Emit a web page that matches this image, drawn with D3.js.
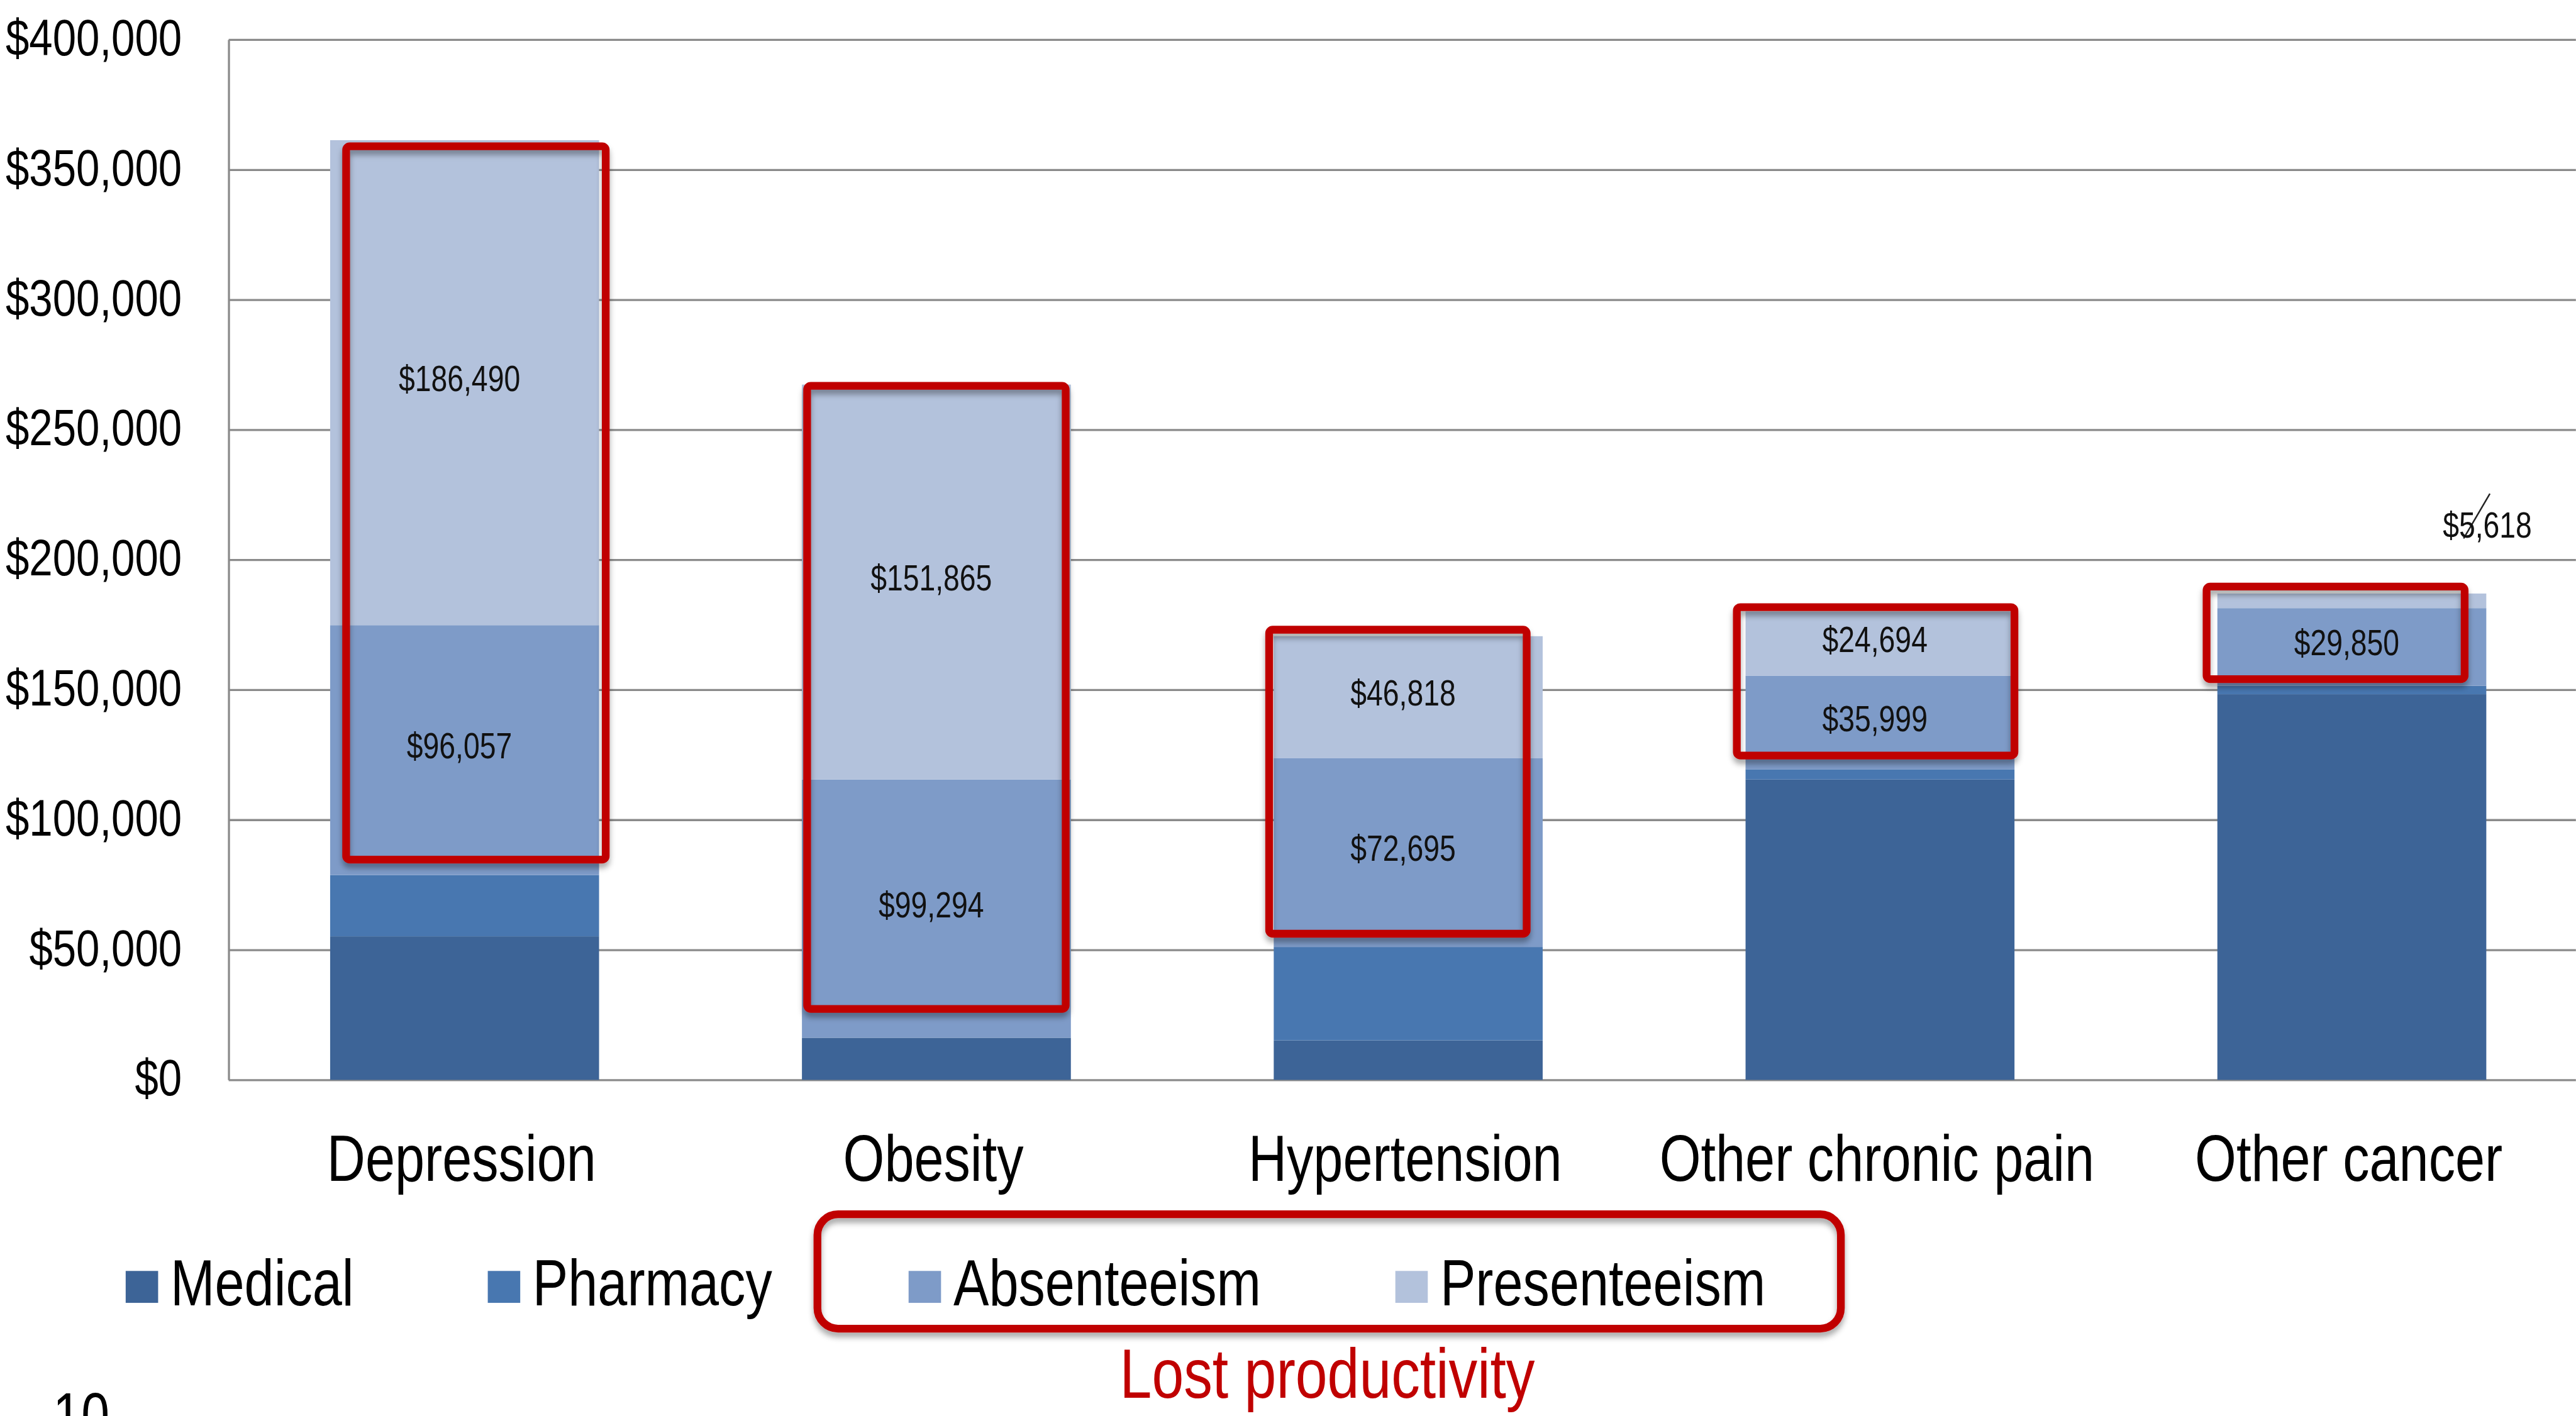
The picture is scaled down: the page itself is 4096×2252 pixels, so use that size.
<!DOCTYPE html>
<html><head><meta charset="utf-8">
<script src="https://cdn.jsdelivr.net/npm/d3@7"></script>
<style>
html,body{margin:0;padding:0;background:#fff;overflow:hidden}
svg{display:block}
</style></head><body>
<svg id="chart" width="4096" height="2252"></svg>
<script>
// ---- data ----
const categories = ["Depression", "Obesity", "Hypertension", "Other chronic pain", "Other cancer"];
const seriesNames = ["Medical", "Pharmacy", "Absenteeism", "Presenteeism"];
const medical      = [55200, 16200, 15200, 115500, 148300];
const pharmacy     = [23600, 0, 35900, 3950, 3250];
const absenteeism  = [96057, 99294, 72695, 35999, 29850];
const presenteeism = [186490, 151865, 46818, 24694, 5618];
const yTickValues  = [0, 50000, 100000, 150000, 200000, 250000, 300000, 350000, 400000];
const labelledSeries = ["Absenteeism", "Presenteeism"];
const groupLabel = "Lost productivity";
const pageNumber = "10";
// highlight boxes around lost productivity (value extents)
const boxTopValue    = [359000, 266900, 173100, 181800, 189700];
const boxBottomValue = [84700, 27300, 56200, 124700, 154100];

// ---- layout (reference pixel space, scaled by 0.819) ----
const S = 0.819;
const NARROW = 0.82;
const colors = {Medical: "#3d6497", Pharmacy: "#4877b0", Absenteeism: "#7e9bc8", Presenteeism: "#b3c2dc"};
const RED = "#c00000";
const FONT = "'Liberation Sans',Arial,sans-serif";
const boxDx = [[-230, 274], [-251, 251], [-270, 230], [-278, 261], [-282, 219]];

const svg = d3.select("#chart");
const defs = svg.append("defs");
const f = defs.append("filter").attr("id", "shadow").attr("x", "-10%").attr("y", "-10%").attr("width", "120%").attr("height", "130%");
f.append("feDropShadow").attr("dx", 0).attr("dy", 9).attr("stdDeviation", 6)
  .attr("flood-color", "#000").attr("flood-opacity", 0.35);

const g = svg.append("g").attr("transform", `scale(${S})`);

const rows = categories.map((c, i) => ({
  category: c, Medical: medical[i], Pharmacy: pharmacy[i],
  Absenteeism: absenteeism[i], Presenteeism: presenteeism[i]
}));

const x = d3.scaleBand().domain(categories).range([444, 5024]).paddingInner(0.43).paddingOuter(0.215);
const y = d3.scaleLinear().domain([0, 400000]).range([2097, 77]);

// gridlines + y axis
const yAxis = d3.axisLeft(y).tickValues(yTickValues)
  .tickFormat(d => "$" + d3.format(",")(d))
  .tickSize(-(5001 - 444)).tickSizeOuter(0).tickPadding(91);
const ax = g.append("g").attr("transform", "translate(444,0)").call(yAxis);
ax.select(".domain").attr("stroke", "#8a8a8a").attr("stroke-width", 4);
ax.selectAll(".tick line").attr("stroke", "#8a8a8a").attr("stroke-width", 4);
ax.selectAll(".tick text").attr("font-family", FONT).attr("font-size", 100)
  .attr("fill", "#000").attr("dy", "0.3em").classed("narrow", true);

// stacked bars
const stack = d3.stack().keys(seriesNames)(rows);
const layers = g.append("g").selectAll("g").data(stack).join("g")
  .attr("fill", d => colors[d.key]);
layers.selectAll("rect").data(d => d).join("rect")
  .attr("x", d => x(d.data.category))
  .attr("width", x.bandwidth())
  .attr("y", d => y(d[1]))
  .attr("height", d => Math.max(0, y(d[0]) - y(d[1])));

// value labels
const fmt = v => "$" + d3.format(",")(v);
const labelG = g.append("g").attr("font-family", FONT).attr("font-size", 69).attr("fill", "#111");
stack.filter(s => labelledSeries.includes(s.key)).forEach(s => {
  s.forEach(d => {
    const v = d[1] - d[0];
    const cx = x(d.data.category) + x.bandwidth() / 2 - 10;
    const h = y(d[0]) - y(d[1]);
    if (h > 60) {
      labelG.append("text").attr("class", "narrow").attr("x", cx).attr("y", (y(d[0]) + y(d[1])) / 2)
        .attr("dy", "0.24em").attr("text-anchor", "middle").text(fmt(v));
    } else {
      // small segment: label outside, upper right, with leader line
      const lx = x(d.data.category) + x.bandwidth() + 2;
      const ly = y(d[1]) - 134;
      labelG.append("line").attr("x1", lx - 46).attr("y1", ly + 27).attr("x2", lx + 5).attr("y2", ly - 60)
        .attr("stroke", "#222").attr("stroke-width", 3);
      labelG.append("text").attr("class", "narrow").attr("x", lx).attr("y", ly).attr("dy", "0.36em")
        .attr("text-anchor", "middle").text(fmt(v));
    }
  });
});

// red highlight boxes
const boxG = g.append("g").attr("filter", "url(#shadow)");
categories.forEach((c, i) => {
  const cx = x(c) + x.bandwidth() / 2;
  const x0 = cx + boxDx[i][0], x1 = cx + boxDx[i][1];
  const y0 = y(boxTopValue[i]), y1 = y(boxBottomValue[i]);
  boxG.append("rect").attr("x", x0).attr("y", y0).attr("width", x1 - x0).attr("height", y1 - y0)
    .attr("rx", 7).attr("fill", "none").attr("stroke", RED).attr("stroke-width", 15);
});

// category labels
g.append("g").selectAll("text").data(categories).join("text")
  .attr("class", "narrow")
  .attr("x", d => x(d) + x.bandwidth() / 2 - 6)
  .attr("y", 2293)
  .attr("text-anchor", "middle")
  .attr("font-family", FONT).attr("font-size", 126).attr("fill", "#000")
  .text(d => d);

// legend
const legendX = [244, 947, 1764, 2709];
const legendG = g.append("g");
seriesNames.forEach((name, i) => {
  legendG.append("rect").attr("x", legendX[i]).attr("y", 2468).attr("width", 63).attr("height", 62)
    .attr("fill", colors[name]);
  legendG.append("text").attr("class", "narrow").attr("x", legendX[i] + 87).attr("y", 2535)
    .attr("font-family", FONT).attr("font-size", 126).attr("fill", "#000").text(name);
});
g.append("rect").attr("x", 1587).attr("y", 2358).attr("width", 3574 - 1587).attr("height", 2580 - 2358)
  .attr("rx", 40).attr("fill", "none").attr("stroke", RED).attr("stroke-width", 15)
  .attr("filter", "url(#shadow)");
g.append("text").attr("class", "narrow").attr("x", 2577).attr("y", 2714).attr("text-anchor", "middle")
  .attr("font-family", FONT).attr("font-size", 136).attr("fill", RED).text(groupLabel);

// page number
g.append("text").attr("class", "narrow").attr("x", 103).attr("y", 2789)
  .attr("font-family", FONT).attr("font-size", 120).attr("fill", "#000").text(pageNumber);

// condense text horizontally (reference uses a narrow typeface)
svg.selectAll("text.narrow").each(function () {
  const w = this.getComputedTextLength();
  if (w > 0) {
    d3.select(this).attr("textLength", w * NARROW).attr("lengthAdjust", "spacingAndGlyphs");
  }
});
</script>
</body></html>
